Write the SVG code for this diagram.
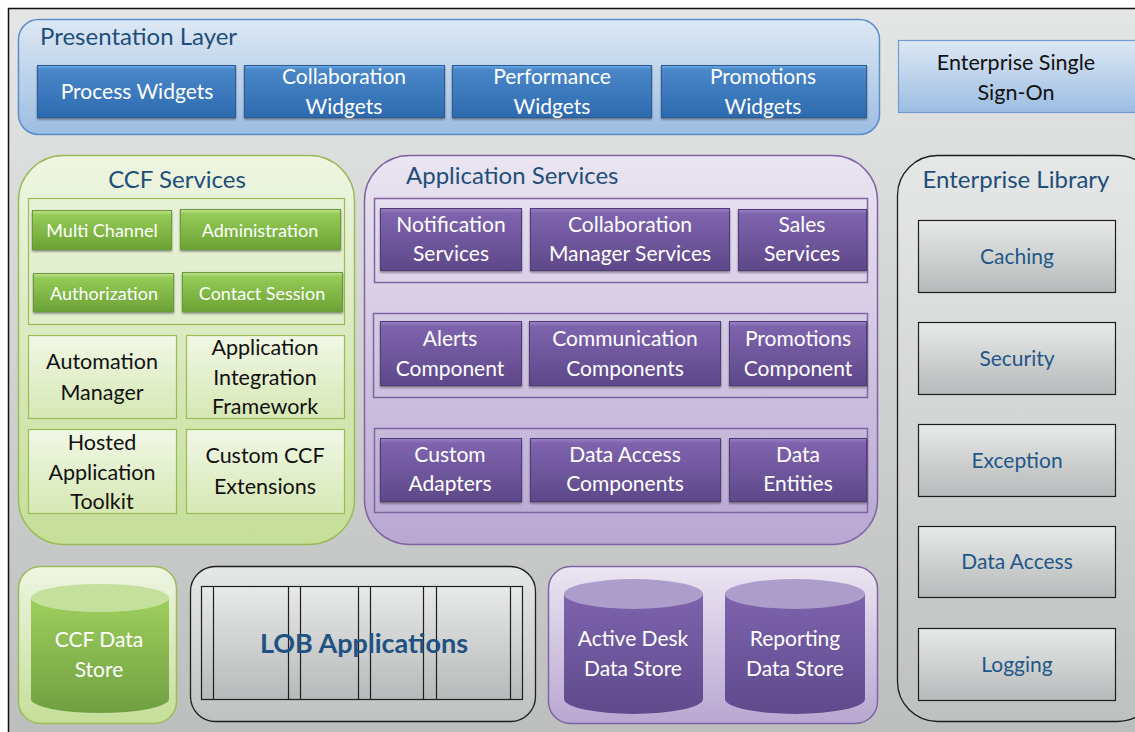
<svg xmlns="http://www.w3.org/2000/svg" width="1135" height="732" viewBox="0 0 1135 732">
  <defs>
    <linearGradient id="bg" x1="0" y1="0" x2="0" y2="1">
      <stop offset="0" stop-color="#e4e5e5"/>
      <stop offset="1" stop-color="#bcbebe"/>
    </linearGradient>
    <linearGradient id="blueLayer" x1="0" y1="0" x2="0" y2="1">
      <stop offset="0" stop-color="#dde8f4"/>
      <stop offset="1" stop-color="#9cbde2"/>
    </linearGradient>
    <linearGradient id="blueBtn" x1="0" y1="0" x2="0" y2="1">
      <stop offset="0" stop-color="#6aaae4"/>
      <stop offset="0.08" stop-color="#4a87c9"/>
      <stop offset="1" stop-color="#2d6aaf"/>
    </linearGradient>
    <linearGradient id="greenLayer" x1="0" y1="0" x2="0" y2="1">
      <stop offset="0" stop-color="#eef5e2"/>
      <stop offset="1" stop-color="#c5de98"/>
    </linearGradient>
    <linearGradient id="greenBox" x1="0" y1="0" x2="0" y2="1">
      <stop offset="0" stop-color="#f1f7e6"/>
      <stop offset="1" stop-color="#d6e8b4"/>
    </linearGradient>
    <linearGradient id="greenBtn" x1="0" y1="0" x2="0" y2="1">
      <stop offset="0" stop-color="#c2e28c"/>
      <stop offset="0.12" stop-color="#94cb57"/>
      <stop offset="1" stop-color="#6ba234"/>
    </linearGradient>
    <linearGradient id="greenCyl" x1="0" y1="0" x2="0" y2="1">
      <stop offset="0" stop-color="#9fcf5e"/>
      <stop offset="1" stop-color="#709f41"/>
    </linearGradient>
    <linearGradient id="purpleLayer" x1="0" y1="0" x2="0" y2="1">
      <stop offset="0" stop-color="#ebe5f2"/>
      <stop offset="1" stop-color="#b8a7d2"/>
    </linearGradient>
    <linearGradient id="purpleBtn" x1="0" y1="0" x2="0" y2="1">
      <stop offset="0" stop-color="#9a80c4"/>
      <stop offset="0.08" stop-color="#7e63ad"/>
      <stop offset="1" stop-color="#5e4889"/>
    </linearGradient>
    <linearGradient id="purpleCyl" x1="0" y1="0" x2="0" y2="1">
      <stop offset="0" stop-color="#7d63ad"/>
      <stop offset="1" stop-color="#5f4a8c"/>
    </linearGradient>
    <linearGradient id="grayBox" x1="0" y1="0" x2="0" y2="1">
      <stop offset="0" stop-color="#e8e9e9"/>
      <stop offset="1" stop-color="#b7baba"/>
    </linearGradient>
    <linearGradient id="grayLayer" x1="0" y1="0" x2="0" y2="1">
      <stop offset="0" stop-color="#e6e7e7"/>
      <stop offset="1" stop-color="#bfc1c1"/>
    </linearGradient>
    <filter id="shadow" x="-5%" y="-10%" width="110%" height="130%">
      <feDropShadow dx="0" dy="1.5" stdDeviation="1" flood-color="#000" flood-opacity="0.45"/>
    </filter>
  </defs>
  <style>
    text { font-family: Lato, "Open Sans", "Liberation Sans", sans-serif; text-anchor: middle; }
    .title { font-size: 24px; fill: #1f4e79; }
    .wtxt { font-size: 21px; fill: #ffffff; }
    .gtxt { font-size: 18px; fill: #ffffff; }
    .btxt { font-size: 21.5px; fill: #111111; }
    .ltxt { font-size: 21px; fill: #1f5787; }
    .blue-btn { fill: url(#blueBtn); stroke: #2b5c93; stroke-width: 1; filter: url(#shadow); }
    .green-btn { fill: url(#greenBtn); stroke: #6a9a3a; stroke-width: 1; filter: url(#shadow); }
    .purple-btn { fill: url(#purpleBtn); stroke: #4f3b78; stroke-width: 1; filter: url(#shadow); }
    .green-box { fill: url(#greenBox); stroke: #9bbb59; stroke-width: 1.2; }
    .purple-row { fill: none; stroke: #8064a2; stroke-width: 1.5; }
    .lib-box { fill: url(#grayBox); stroke: #1e1e1e; stroke-width: 1.2; }
  </style>

  <!-- page frame -->
  <rect x="0" y="0" width="1135" height="732" fill="#ffffff"/>
  <rect x="8.5" y="8.5" width="1140" height="740" fill="url(#bg)" stroke="#111" stroke-width="1.5"/>

  <!-- Presentation layer -->
  <g id="presentation-layer">
    <rect x="18.5" y="19.5" width="861" height="115" rx="20" fill="url(#blueLayer)" stroke="#5b8dcb" stroke-width="1.5"/>
    <text class="title" x="40" y="45" style="text-anchor:start">Presentation Layer</text>
  </g>
  <g id="process-widgets">
    <rect class="blue-btn" x="37.5" y="65.5" width="198" height="52"/>
    <text class="wtxt" x="137" y="99">Process Widgets</text>
  </g>
  <g id="collaboration-widgets">
    <rect class="blue-btn" x="244.5" y="65.5" width="200" height="52"/>
    <text class="wtxt" x="344" y="84">Collaboration</text>
    <text class="wtxt" x="344" y="114">Widgets</text>
  </g>
  <g id="performance-widgets">
    <rect class="blue-btn" x="452.5" y="65.5" width="199" height="52"/>
    <text class="wtxt" x="552" y="84">Performance</text>
    <text class="wtxt" x="552" y="114">Widgets</text>
  </g>
  <g id="promotions-widgets">
    <rect class="blue-btn" x="661.5" y="65.5" width="205" height="52"/>
    <text class="wtxt" x="763" y="84">Promotions</text>
    <text class="wtxt" x="763" y="114">Widgets</text>
  </g>

  <!-- Single sign-on -->
  <g id="enterprise-sso">
    <rect x="898.5" y="40.5" width="250" height="72" fill="url(#blueLayer)" stroke="#6f9bd0" stroke-width="1.2"/>
    <text class="btxt" x="1016" y="70">Enterprise Single</text>
    <text class="btxt" x="1016" y="100">Sign-On</text>
  </g>

  <!-- CCF services -->
  <g id="ccf-services">
    <rect x="18.5" y="155.5" width="336" height="389" rx="45" fill="url(#greenLayer)" stroke="#9bbb59" stroke-width="1.5"/>
    <text class="title" x="177" y="188">CCF Services</text>
    <rect x="28.5" y="198.5" width="316" height="126" fill="#e6f0d3" fill-opacity="0.5" stroke="#9bbb59" stroke-width="1.2"/>
  </g>
  <g id="multi-channel">
    <rect class="green-btn" x="32.5" y="210.5" width="139" height="39"/>
    <text class="gtxt" x="102" y="237">Multi Channel</text>
  </g>
  <g id="administration">
    <rect class="green-btn" x="180.5" y="209.5" width="160" height="40"/>
    <text class="gtxt" x="260" y="237">Administration</text>
  </g>
  <g id="authorization">
    <rect class="green-btn" x="33.5" y="273.5" width="140" height="38"/>
    <text class="gtxt" x="104" y="300">Authorization</text>
  </g>
  <g id="contact-session">
    <rect class="green-btn" x="182.5" y="272.5" width="160" height="39"/>
    <text class="gtxt" x="262" y="300">Contact Session</text>
  </g>
  <g id="automation-manager">
    <rect class="green-box" x="28.5" y="335.5" width="148" height="83"/>
    <text class="btxt" x="102" y="369">Automation</text>
    <text class="btxt" x="102" y="400">Manager</text>
  </g>
  <g id="application-integration-framework">
    <rect class="green-box" x="186.5" y="335.5" width="158" height="83"/>
    <text class="btxt" x="265" y="355">Application</text>
    <text class="btxt" x="265" y="385">Integration</text>
    <text class="btxt" x="265" y="414">Framework</text>
  </g>
  <g id="hosted-application-toolkit">
    <rect class="green-box" x="28.5" y="429.5" width="148" height="84"/>
    <text class="btxt" x="102" y="450">Hosted</text>
    <text class="btxt" x="102" y="480">Application</text>
    <text class="btxt" x="102" y="509">Toolkit</text>
  </g>
  <g id="custom-ccf-extensions">
    <rect class="green-box" x="186.5" y="429.5" width="158" height="84"/>
    <text class="btxt" x="265" y="463">Custom CCF</text>
    <text class="btxt" x="265" y="494">Extensions</text>
  </g>

  <!-- Application services -->
  <g id="application-services">
    <rect x="364.5" y="155.5" width="513" height="389" rx="45" fill="url(#purpleLayer)" stroke="#8064a2" stroke-width="1.5"/>
    <text class="title" x="406" y="184" style="text-anchor:start">Application Services</text>
    <rect class="purple-row" x="374.5" y="198.5" width="493" height="84"/>
    <rect class="purple-row" x="373.5" y="313.5" width="494" height="84"/>
    <rect class="purple-row" x="374.5" y="428.5" width="493" height="84"/>
  </g>
  <g id="notification-services">
    <rect class="purple-btn" x="380.5" y="208.5" width="141" height="62"/>
    <text class="wtxt" x="451" y="232">Notification</text>
    <text class="wtxt" x="451" y="261">Services</text>
  </g>
  <g id="collaboration-manager-services">
    <rect class="purple-btn" x="530.5" y="208.5" width="199" height="62"/>
    <text class="wtxt" x="630" y="232">Collaboration</text>
    <text class="wtxt" x="630" y="261">Manager Services</text>
  </g>
  <g id="sales-services">
    <rect class="purple-btn" x="738.5" y="209.5" width="128" height="61"/>
    <text class="wtxt" x="802" y="232">Sales</text>
    <text class="wtxt" x="802" y="261">Services</text>
  </g>
  <g id="alerts-component">
    <rect class="purple-btn" x="380.5" y="321.5" width="141" height="64"/>
    <text class="wtxt" x="450" y="346">Alerts</text>
    <text class="wtxt" x="450" y="376">Component</text>
  </g>
  <g id="communication-components">
    <rect class="purple-btn" x="529.5" y="321.5" width="191" height="64"/>
    <text class="wtxt" x="625" y="346">Communication</text>
    <text class="wtxt" x="625" y="376">Components</text>
  </g>
  <g id="promotions-component">
    <rect class="purple-btn" x="729.5" y="321.5" width="137" height="64"/>
    <text class="wtxt" x="798" y="346">Promotions</text>
    <text class="wtxt" x="798" y="376">Component</text>
  </g>
  <g id="custom-adapters">
    <rect class="purple-btn" x="380.5" y="438.5" width="141" height="63"/>
    <text class="wtxt" x="450" y="462">Custom</text>
    <text class="wtxt" x="450" y="491">Adapters</text>
  </g>
  <g id="data-access-components">
    <rect class="purple-btn" x="530.5" y="438.5" width="190" height="63"/>
    <text class="wtxt" x="625" y="462">Data Access</text>
    <text class="wtxt" x="625" y="491">Components</text>
  </g>
  <g id="data-entities">
    <rect class="purple-btn" x="729.5" y="438.5" width="137" height="63"/>
    <text class="wtxt" x="798" y="462">Data</text>
    <text class="wtxt" x="798" y="491">Entities</text>
  </g>

  <!-- Enterprise library -->
  <g id="enterprise-library">
    <rect x="897.5" y="155.5" width="260" height="566" rx="40" fill="url(#grayLayer)" stroke="#1e1e1e" stroke-width="1.3"/>
    <text class="title" x="1016" y="188">Enterprise Library</text>
  </g>
  <g id="caching">
    <rect class="lib-box" x="918.5" y="220.5" width="197" height="72"/>
    <text class="ltxt" x="1017" y="264">Caching</text>
  </g>
  <g id="security">
    <rect class="lib-box" x="918.5" y="322.5" width="197" height="72"/>
    <text class="ltxt" x="1017" y="366">Security</text>
  </g>
  <g id="exception">
    <rect class="lib-box" x="918.5" y="424.5" width="197" height="72"/>
    <text class="ltxt" x="1017" y="468">Exception</text>
  </g>
  <g id="data-access">
    <rect class="lib-box" x="918.5" y="526.5" width="197" height="71"/>
    <text class="ltxt" x="1017" y="569">Data Access</text>
  </g>
  <g id="logging">
    <rect class="lib-box" x="918.5" y="628.5" width="197" height="72"/>
    <text class="ltxt" x="1017" y="672">Logging</text>
  </g>

  <!-- CCF data store -->
  <g id="ccf-data-store">
    <rect x="18.5" y="566.5" width="158" height="157" rx="22" fill="url(#greenLayer)" stroke="#9bbb59" stroke-width="1.5"/>
    <path d="M31,598 L31,699 A69,14 0 0 0 169,699 L169,598 Z" fill="url(#greenCyl)"/>
    <ellipse cx="100" cy="598" rx="69" ry="14" fill="#c4e09c"/>
    <text class="wtxt" x="99" y="647">CCF Data</text>
    <text class="wtxt" x="99" y="677">Store</text>
  </g>

  <!-- LOB applications -->
  <g id="lob-applications">
    <rect x="190.5" y="566.5" width="345" height="155" rx="25" fill="url(#grayLayer)" stroke="#1e1e1e" stroke-width="1.3"/>
    <rect x="201.5" y="586.5" width="321" height="113" fill="url(#grayBox)" stroke="#1e1e1e" stroke-width="1.2"/>
    <path d="M213.5,586.5 V699.5 M288.5,586.5 V699.5 M300.5,586.5 V699.5 M358.5,586.5 V699.5 M370.5,586.5 V699.5 M423.5,586.5 V699.5 M436.5,586.5 V699.5 M510.5,586.5 V699.5" stroke="#1e1e1e" stroke-width="1.2" fill="none"/>
    <text x="364" y="653" style="font-size:27px;font-weight:bold;fill:#1f5282">LOB Applications</text>
  </g>

  <!-- Desk and reporting stores -->
  <g id="data-stores">
    <rect x="548.5" y="566.5" width="329" height="157" rx="22" fill="url(#purpleLayer)" stroke="#8064a2" stroke-width="1.5"/>
  </g>
  <g id="active-desk-data-store">
    <path d="M564,594 L564,699 A69.5,15 0 0 0 703,699 L703,594 Z" fill="url(#purpleCyl)"/>
    <ellipse cx="633.5" cy="594" rx="69.5" ry="15" fill="#ad9dcb"/>
    <text class="wtxt" x="633" y="646">Active Desk</text>
    <text class="wtxt" x="633" y="676">Data Store</text>
  </g>
  <g id="reporting-data-store">
    <path d="M725,594 L725,699 A70,15 0 0 0 865,699 L865,594 Z" fill="url(#purpleCyl)"/>
    <ellipse cx="795" cy="594" rx="70" ry="15" fill="#ad9dcb"/>
    <text class="wtxt" x="795" y="646">Reporting</text>
    <text class="wtxt" x="795" y="676">Data Store</text>
  </g>

  <!-- no connectors in this layered view -->
  <g id="connectors"/>
</svg>
